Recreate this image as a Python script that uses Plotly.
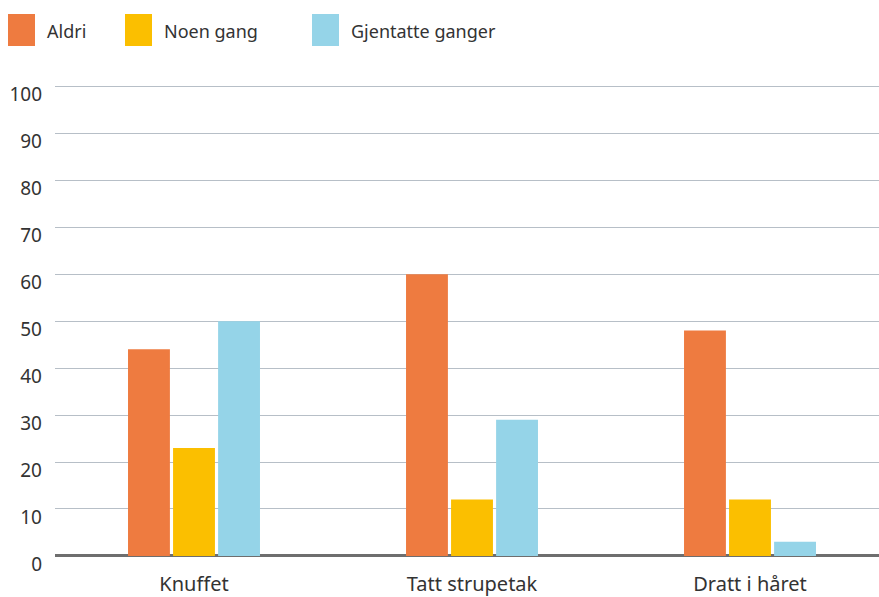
import plotly.graph_objects as go

# Survey data: share (%) per experience and frequency
categories = ["Knuffet", "Tatt strupetak", "Dratt i håret"]
series_names = ["Aldri", "Noen gang", "Gjentatte ganger"]
aldri = [44, 60, 48]
noen_gang = [23, 12, 12]
gjentatte = [50, 29, 3]
colors = ["#EE7B40", "#FBBF00", "#95D4E8"]
y_ticks = [0, 10, 20, 30, 40, 50, 60, 70, 80, 90, 100]

FONT = "Noto Sans"
TEXT = "#333333"

W, H = 879, 597
M_L, M_R, M_T, M_B = 55, 0, 77, 27
PW, PH = W - M_L - M_R, H - M_T - M_B

def px_x(px):
    return (px - M_L) / PW

def px_y(py):
    return (H - M_B - py) / PH

fig = go.Figure()
for name, vals, col in zip(series_names, [aldri, noen_gang, gjentatte], colors):
    fig.add_trace(go.Bar(x=categories, y=vals, name=name, marker_color=col,
                         marker_line_width=0, showlegend=False))

# Custom legend: coloured squares with labels across the top
legend_x = [8, 125, 312]
for x0, name, col in zip(legend_x, series_names, colors):
    fig.add_shape(type="rect", xref="paper", yref="paper",
                  x0=px_x(x0), x1=px_x(x0 + 27),
                  y0=px_y(46), y1=px_y(14),
                  fillcolor=col, line_width=0, layer="above")
    fig.add_annotation(xref="paper", yref="paper",
                       x=px_x(x0 + 37), y=px_y(31),
                       text=name, showarrow=False, xanchor="left", yanchor="middle",
                       font=dict(family=FONT, size=18, color=TEXT))

fig.update_layout(
    width=W, height=H,
    margin=dict(l=M_L, r=M_R, t=M_T, b=M_B, autoexpand=False),
    paper_bgcolor="white", plot_bgcolor="white",
    barmode="group", bargap=0.514, bargroupgap=0.07,
    font=dict(family=FONT, size=17, color=TEXT),
    xaxis=dict(range=[-0.5, 2.464], showgrid=False, showline=False, zeroline=False,
               ticks="", tickfont=dict(family=FONT, size=20, color=TEXT),
               ticklabelstandoff=0, automargin=False),
    yaxis=dict(range=[-3, 102], tickvals=y_ticks, showticklabels=False,
               showgrid=True, gridcolor="#B7BFC7", gridwidth=1,
               zeroline=True, zerolinecolor="#6E6E6E", zerolinewidth=3,
               showline=False, fixedrange=True, automargin=False),
    # Tick labels set slightly below their gridlines
    yaxis2=dict(overlaying="y", side="left", range=[-1.3, 103.7], tickvals=y_ticks,
                showgrid=False, zeroline=False, showline=False, ticks="",
                tickfont=dict(family=FONT, size=19, color=TEXT),
                ticklabelstandoff=12, automargin=False),
)
fig.add_trace(go.Scatter(x=[categories[0]], y=[None], yaxis="y2", showlegend=False,
                         hoverinfo="skip", mode="markers", marker_opacity=0))

fig.write_html("out.html")
